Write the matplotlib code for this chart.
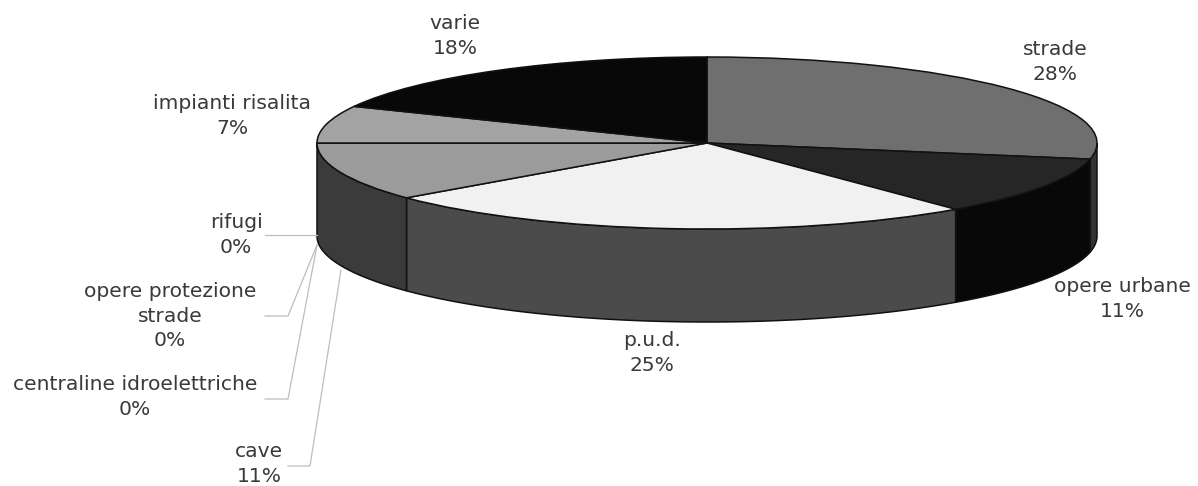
import numpy as np
import matplotlib
matplotlib.use("Agg")
import matplotlib.pyplot as plt

labels = ["strade", "opere urbane", "p.u.d.", "cave", "centraline idroelettriche",
          "opere protezione\nstrade", "rifugi", "impianti risalita", "varie"]
values = [28, 11, 25, 11, 0, 0, 0, 7, 18]
top_colors = ["#6f6f6f", "#262626", "#f1f1f1", "#9b9b9b", "#999999",
              "#999999", "#999999", "#a3a3a3", "#080808"]
side_colors = ["#333333", "#080808", "#4b4b4b", "#3b3b3b", "#3b3b3b",
               "#3b3b3b", "#3b3b3b", "#3b3b3b", "#3b3b3b"]

W, H = 1198, 486
CX, CY, RX, RY, DEPTH = 707, 143, 390, 86, 93

plt.rcParams["font.family"] = ["DejaVu Sans"]
fig = plt.figure(figsize=(W / 100, H / 100), dpi=100, facecolor="white")

# pie axes: one data unit = one radius, stretched into an ellipse
ax = fig.add_axes([0, 0, 1, 1])
ax.pie(values, startangle=90, counterclock=False, colors=top_colors, radius=1,
       center=(0, 0), wedgeprops=dict(edgecolor="#111111", linewidth=1.1, zorder=3))
ax.set_aspect("auto")
ax.set_xlim(-CX / RX, (W - CX) / RX)
ax.set_ylim(-(H - CY) / RY, CY / RY)
ax.axis("off")

# side wall of the visible (front) half
depth = DEPTH / RY
cum = np.cumsum([0] + values) / sum(values) * 360.0
for start, end, colour, value in zip(cum[:-1], cum[1:], side_colors, values):
    a, b = max(start, 90.0), min(end, 270.0)
    if value == 0 or b <= a:
        continue
    th = np.radians(np.linspace(a, b, 120))
    x, y = np.sin(th), np.cos(th)
    ax.fill(np.r_[x, x[::-1]], np.r_[y, y[::-1] - depth], facecolor=colour,
            edgecolor="#111111", linewidth=1.1, zorder=2)

# overlay in pixel coordinates for labels and leader lines
ov = fig.add_axes([0, 0, 1, 1], facecolor="none")
ov.set_xlim(0, W)
ov.set_ylim(H, 0)
ov.axis("off")

text_pos = {
    "strade": (1055, 62), "opere urbane": (1122, 299), "p.u.d.": (652, 353),
    "cave": (259, 464), "centraline idroelettriche": (135, 397),
    "opere protezione\nstrade": (170, 316), "rifugi": (236, 235),
    "impianti risalita": (232, 116), "varie": (455, 36),
}
for name, value in zip(labels, values):
    x, y = text_pos[name]
    ov.text(x, y, f"{name}\n{value}%", ha="center", va="center", fontsize=14.6,
            color="#3a3a3a", linespacing=1.38)

leaders = [
    ([265, 317], [235, 235]),
    ([265, 288, 317], [316, 316, 245]),
    ([265, 288, 317], [399, 399, 245]),
    ([288, 310, 341], [466, 466, 270]),
]
for xs, ys in leaders:
    ov.plot(xs, ys, color="#bdbdbd", linewidth=0.9)

fig.savefig("out.png", dpi=100, facecolor="white")
